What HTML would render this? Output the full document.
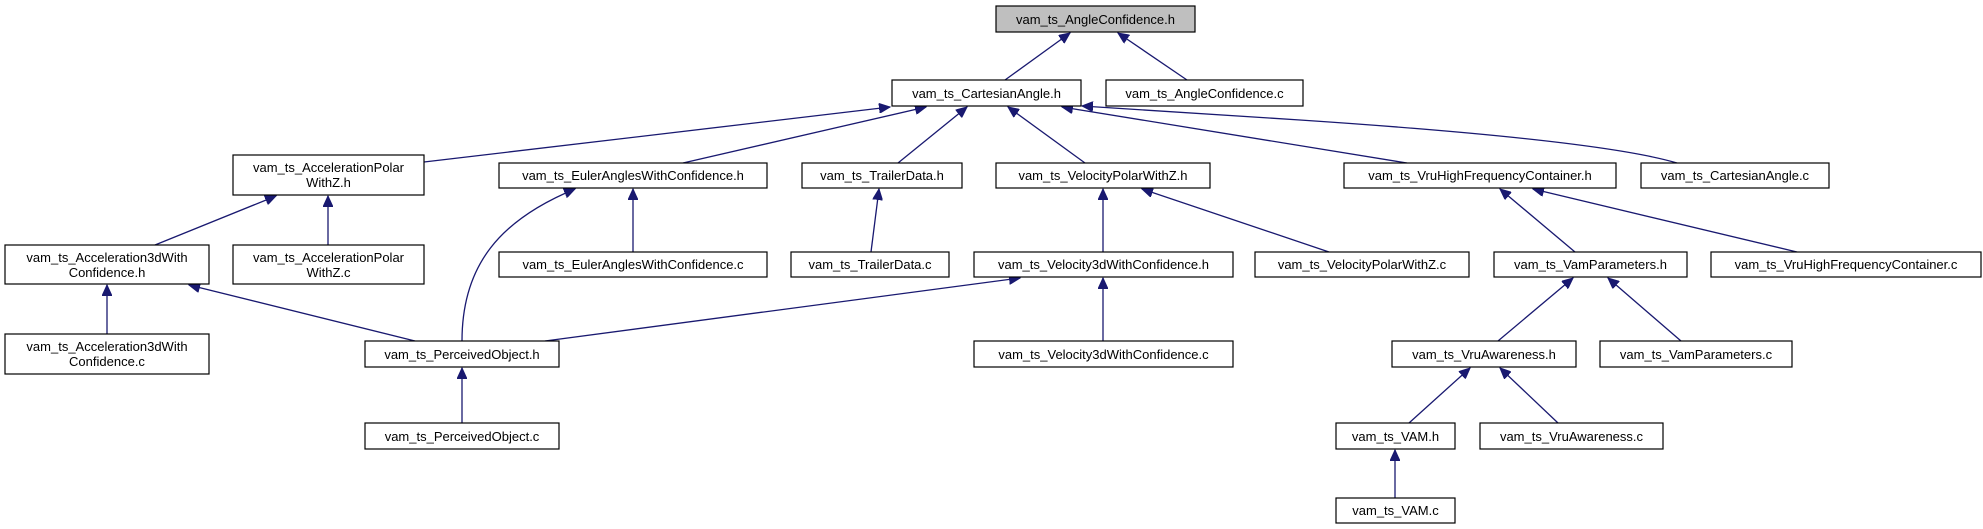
<!DOCTYPE html>
<html><head><meta charset="utf-8"><style>
html,body{margin:0;padding:0;background:#fff;}
svg{display:block;}
text{font-family:"Liberation Sans","DejaVu Sans",sans-serif;font-size:13px;fill:#000;}
rect{fill:#fff;stroke:#000;stroke-width:1.2;}
.e{fill:none;stroke:#191970;stroke-width:1.3;}
</style></head><body>
<svg width="1983" height="529" viewBox="0 0 1983 529" xmlns="http://www.w3.org/2000/svg">
<defs>
<marker id="a" markerUnits="userSpaceOnUse" markerWidth="12" markerHeight="10" refX="11" refY="5" orient="auto">
<path d="M0,0 L11,5 L0,10 Z" fill="#191970" stroke="#191970"/>
</marker>
</defs>
<g class="edges">
<path class="e" marker-end="url(#a)" d="M1005,80 L1070,33"/>
<path class="e" marker-end="url(#a)" d="M1187,80 L1118,33"/>
<path class="e" marker-end="url(#a)" d="M424,162 L890,107"/>
<path class="e" marker-end="url(#a)" d="M683,163 L926,107"/>
<path class="e" marker-end="url(#a)" d="M898,163 L967,107"/>
<path class="e" marker-end="url(#a)" d="M1085,163 L1008,107"/>
<path class="e" marker-end="url(#a)" d="M1407,163 L1062,107"/>
<path class="e" marker-end="url(#a)" d="M1677,163 Q1600,140 1300,120 Q1150,110 1082,106"/>
<path class="e" marker-end="url(#a)" d="M155,245 L276,196"/>
<path class="e" marker-end="url(#a)" d="M328,245 L328,196"/>
<path class="e" marker-end="url(#a)" d="M633,252 L633,189"/>
<path class="e" marker-end="url(#a)" d="M462,341 C462,265 500,220 575,189"/>
<path class="e" marker-end="url(#a)" d="M107,334 L107,285"/>
<path class="e" marker-end="url(#a)" d="M415,341 L189,285"/>
<path class="e" marker-end="url(#a)" d="M462,423 L462,368"/>
<path class="e" marker-end="url(#a)" d="M545,341 L1020,278"/>
<path class="e" marker-end="url(#a)" d="M871,252 L879,189"/>
<path class="e" marker-end="url(#a)" d="M1103,252 L1103,189"/>
<path class="e" marker-end="url(#a)" d="M1329,252 L1142,189"/>
<path class="e" marker-end="url(#a)" d="M1103,341 L1103,278"/>
<path class="e" marker-end="url(#a)" d="M1575,252 L1500,189"/>
<path class="e" marker-end="url(#a)" d="M1797,252 L1533,189"/>
<path class="e" marker-end="url(#a)" d="M1498,341 L1573,278"/>
<path class="e" marker-end="url(#a)" d="M1681,341 L1608,278"/>
<path class="e" marker-end="url(#a)" d="M1409,423 L1470,368"/>
<path class="e" marker-end="url(#a)" d="M1558,423 L1500,368"/>
<path class="e" marker-end="url(#a)" d="M1395,498 L1395,450"/>
</g>
<g class="nodes">
<rect x="996" y="6" width="199" height="26" style="fill:#bfbfbf"/><text x="1095.5" y="24" text-anchor="middle">vam_ts_AngleConfidence.h</text>
<rect x="892" y="80" width="189" height="26"/><text x="986.5" y="98" text-anchor="middle">vam_ts_CartesianAngle.h</text>
<rect x="1106" y="80" width="197" height="26"/><text x="1204.5" y="98" text-anchor="middle">vam_ts_AngleConfidence.c</text>
<rect x="233" y="155" width="191" height="40"/><text x="328.5" y="172" text-anchor="middle">vam_ts_AccelerationPolar</text><text x="328.5" y="187" text-anchor="middle">WithZ.h</text>
<rect x="499" y="163" width="268" height="25"/><text x="633" y="180" text-anchor="middle">vam_ts_EulerAnglesWithConfidence.h</text>
<rect x="802" y="163" width="160" height="25"/><text x="882" y="180" text-anchor="middle">vam_ts_TrailerData.h</text>
<rect x="996" y="163" width="214" height="25"/><text x="1103" y="180" text-anchor="middle">vam_ts_VelocityPolarWithZ.h</text>
<rect x="1344" y="163" width="272" height="25"/><text x="1480" y="180" text-anchor="middle">vam_ts_VruHighFrequencyContainer.h</text>
<rect x="1641" y="163" width="188" height="25"/><text x="1735" y="180" text-anchor="middle">vam_ts_CartesianAngle.c</text>
<rect x="5" y="245" width="204" height="39"/><text x="107" y="262" text-anchor="middle">vam_ts_Acceleration3dWith</text><text x="107" y="277" text-anchor="middle">Confidence.h</text>
<rect x="233" y="245" width="191" height="39"/><text x="328.5" y="262" text-anchor="middle">vam_ts_AccelerationPolar</text><text x="328.5" y="277" text-anchor="middle">WithZ.c</text>
<rect x="499" y="252" width="268" height="25"/><text x="633" y="269" text-anchor="middle">vam_ts_EulerAnglesWithConfidence.c</text>
<rect x="791" y="252" width="158" height="25"/><text x="870" y="269" text-anchor="middle">vam_ts_TrailerData.c</text>
<rect x="974" y="252" width="259" height="25"/><text x="1103.5" y="269" text-anchor="middle">vam_ts_Velocity3dWithConfidence.h</text>
<rect x="1255" y="252" width="214" height="25"/><text x="1362" y="269" text-anchor="middle">vam_ts_VelocityPolarWithZ.c</text>
<rect x="1494" y="252" width="193" height="25"/><text x="1590.5" y="269" text-anchor="middle">vam_ts_VamParameters.h</text>
<rect x="1711" y="252" width="270" height="25"/><text x="1846" y="269" text-anchor="middle">vam_ts_VruHighFrequencyContainer.c</text>
<rect x="5" y="334" width="204" height="40"/><text x="107" y="351" text-anchor="middle">vam_ts_Acceleration3dWith</text><text x="107" y="366" text-anchor="middle">Confidence.c</text>
<rect x="365" y="341" width="194" height="26"/><text x="462" y="359" text-anchor="middle">vam_ts_PerceivedObject.h</text>
<rect x="974" y="341" width="259" height="26"/><text x="1103.5" y="359" text-anchor="middle">vam_ts_Velocity3dWithConfidence.c</text>
<rect x="1392" y="341" width="184" height="26"/><text x="1484" y="359" text-anchor="middle">vam_ts_VruAwareness.h</text>
<rect x="1600" y="341" width="192" height="26"/><text x="1696" y="359" text-anchor="middle">vam_ts_VamParameters.c</text>
<rect x="365" y="423" width="194" height="26"/><text x="462" y="441" text-anchor="middle">vam_ts_PerceivedObject.c</text>
<rect x="1336" y="423" width="119" height="26"/><text x="1395.5" y="441" text-anchor="middle">vam_ts_VAM.h</text>
<rect x="1480" y="423" width="183" height="26"/><text x="1571.5" y="441" text-anchor="middle">vam_ts_VruAwareness.c</text>
<rect x="1336" y="498" width="119" height="25"/><text x="1395.5" y="515" text-anchor="middle">vam_ts_VAM.c</text>
</g>
</svg>
</body></html>
